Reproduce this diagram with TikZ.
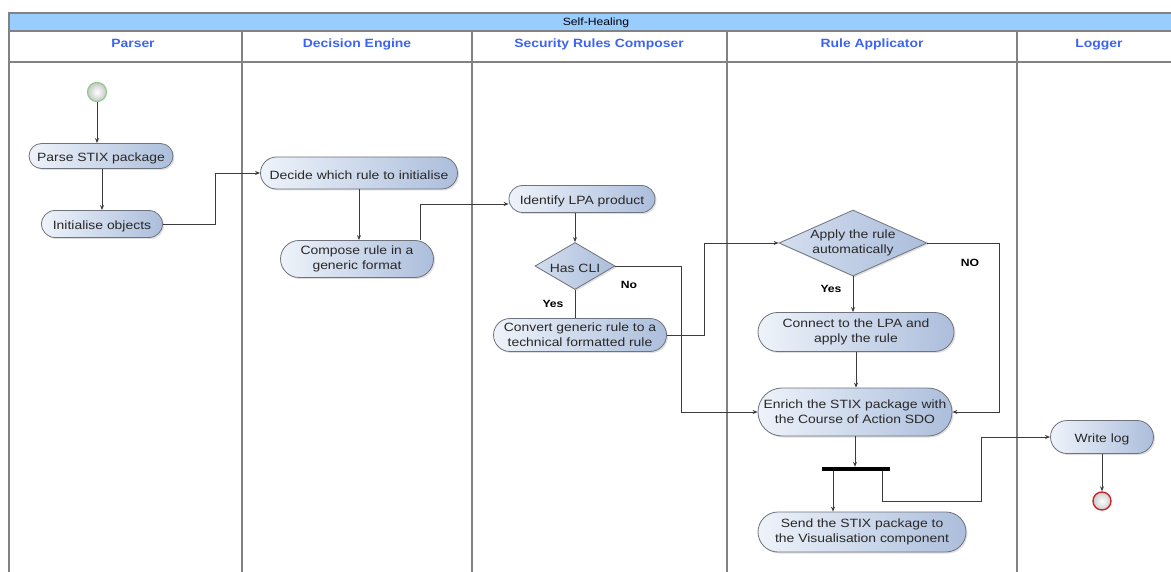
\documentclass[tikz,border=0pt]{standalone}
\usepackage{fontspec}
\setmainfont{Liberation Sans}[FakeStretch=1.16]
\usetikzlibrary{arrows.meta,shapes.misc,shapes.geometric,shadows,calc}
\definecolor{lanehead}{RGB}{60,100,240}
\definecolor{titlebar}{RGB}{153,204,255}
\definecolor{laneline}{RGB}{130,130,130}
\definecolor{boxline}{RGB}{110,115,125}
\definecolor{boxleft}{RGB}{238,243,250}
\definecolor{boxright}{RGB}{172,190,220}
\definecolor{conn}{RGB}{60,60,60}
\definecolor{boxtext}{RGB}{40,40,40}
\tikzset{
  lane/.style={draw=laneline, line width=1.1pt},
  headtxt/.style={font=\fontsize{12}{14}\selectfont\bfseries, text=lanehead, anchor=base},
  act/.style={rounded rectangle, draw=boxline, line width=0.8pt,
    left color=boxleft, right color=boxright, align=center, inner sep=2pt,
    font=\fontsize{12}{15}\selectfont, text=boxtext,
    execute at begin node={\rule{0pt}{13pt}},
    drop shadow={opacity=0.25, shadow xshift=1.5pt, shadow yshift=-1.5pt}},
  dec/.style={diamond, draw=boxline, line width=0.8pt,
    left color=boxleft!60!boxright, right color=boxright, align=center, inner sep=0pt,
    font=\fontsize{12}{15}\selectfont, text=boxtext,
    execute at begin node={\rule{0pt}{12.5pt}},
    drop shadow={opacity=0.25, shadow xshift=1.5pt, shadow yshift=-1.5pt}},
  arr/.style={draw=conn, line width=0.8pt, -{Stealth[length=5pt,width=4pt]}},
  ln/.style={draw=conn, line width=0.8pt},
  lbl/.style={font=\fontsize{10.5}{12}\selectfont\bfseries, text=black},
}
\begin{document}
\begin{tikzpicture}[x=1pt,y=-1pt]
\useasboundingbox (0,0) rectangle (1171,572);
% pool frame
\fill[white] (0,0) rectangle (1171,572);
\draw[draw=laneline, line width=1.1pt, fill=titlebar] (9,13) rectangle (1175,31);
\node[font=\fontsize{10.5}{12}\selectfont] (title) at (596,22.5) {Self-Healing};
\draw[lane] (9,62) -- (1175,62);
\foreach \xx in {9,242,472,727,1017} { \draw[lane] (\xx,31) -- (\xx,575); }
\node[headtxt] (h1) at (133,48) {Parser};
\node[headtxt] (h2) at (357,48) {Decision Engine};
\node[headtxt] (h3) at (599,48) {Security Rules Composer};
\node[headtxt] (h4) at (872,48) {Rule Applicator};
\node[headtxt] (h5) at (1099,48) {Logger};
% nodes
\node[circle, draw={rgb,255:red,140;green,205;blue,140}, line width=1.2pt, minimum size=19pt, inner sep=0pt,
  inner color=white, outer color=black!22] (start) at (97,92) {};
\node[act, minimum width=148pt, minimum height=25pt] (parse) at (101,156) {Parse STIX package};
\node[act, minimum width=125pt, minimum height=27pt] (init) at (102,224) {Initialise objects};
\node[act, minimum width=201pt, minimum height=32pt] (decide) at (359,173) {Decide which rule to initialise};
\node[act, minimum width=157pt, minimum height=37pt] (compose) at (357,259) {Compose rule in a\\generic format};
\node[act, minimum width=150pt, minimum height=27pt] (identify) at (582,199) {Identify LPA product};
\node[dec, minimum width=80pt, minimum height=47pt, shape aspect=1.7] (hascli) at (575,266) {Has CLI};
\node[act, minimum width=177pt, minimum height=33pt] (convert) at (580,335) {Convert generic rule to a\\technical formatted rule};
\node[dec, minimum width=148pt, minimum height=66pt, shape aspect=2.24] (apply) at (853,243) {Apply the rule\\automatically};
\node[act, minimum width=200pt, minimum height=39pt] (connect) at (856,332) {Connect to the LPA and\\apply the rule};
\node[act, minimum width=198pt, minimum height=48pt] (enrich) at (855,412) {Enrich the STIX package with\\the Course of Action SDO};
\node[rectangle, fill=black, minimum width=68pt, minimum height=4pt, inner sep=0pt] (fork) at (856,469) {};
\node[act, minimum width=212pt, minimum height=40pt] (send) at (862,532) {Send the STIX package to\\the Visualisation component};
\node[act, minimum width=107pt, minimum height=33pt] (writelog) at (1102,437) {Write log};
\node[circle, draw={rgb,255:red,200;green,40;blue,40}, line width=1.4pt, minimum size=18pt, inner sep=0pt,
  inner color=white, outer color=black!20] (end) at (1102,501) {};
% connectors
\draw[arr] (start) -- (start |- parse.north);
\draw[arr] (parse.south -| init.north) -- (init.north);
\draw[arr] (init.east) -- ++(52,0) |- (decide.west);
\draw[arr] (decide.south) -- (decide.south |- compose.north);
\draw[arr] ([xshift=63pt]compose.north) |- ([yshift=-5pt]identify.west);
\draw[arr] (hascli.north |- identify.south) -- (hascli.north);
\draw[ln] (hascli.south) -- (hascli.south |- convert.north);
\draw[arr] (hascli.east) -- ++(66,0) |- (enrich.west);
\draw[arr] (convert.east) -- ++(37,0) |- (apply.west);
\draw[arr] (apply.south) -- (apply.south |- connect.north);
\draw[arr] (apply.east) -- ++(72,0) |- (enrich.east);
\draw[arr] (connect.south) -- (connect.south |- enrich.north);
\draw[arr] (enrich.south) -- (enrich.south |- fork.north);
\draw[arr] ([xshift=-23pt]fork.south) -- ([xshift=-23pt]fork.south |- send.north);
\draw[arr] ([xshift=26pt]fork.south) -- ++(0,30) -- ++(99,0) |- (writelog.west);
\draw[arr] (writelog.south) -- (end.north);
% labels
\node[lbl] (yes1) at (553,304) {Yes};
\node[lbl] (no1) at (629,285) {No};
\node[lbl] (yes2) at (831,289) {Yes};
\node[lbl] (no2) at (970,263) {NO};
\end{tikzpicture}
\end{document}
